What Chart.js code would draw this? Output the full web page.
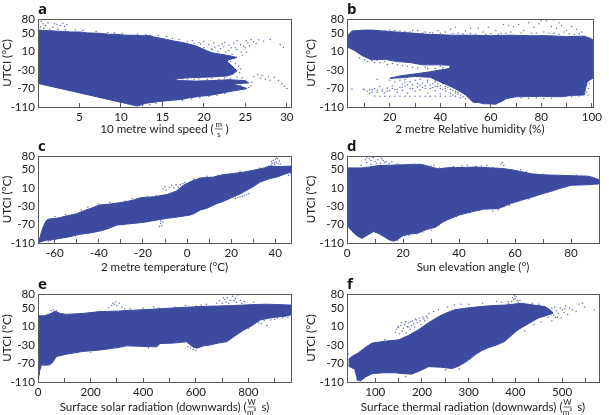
<!DOCTYPE html>
<html><head><meta charset="utf-8">
<script src="https://cdn.jsdelivr.net/npm/chart.js@4"></script>
<style>html,body{margin:0;padding:0;background:#fff;width:609px;height:415px;overflow:hidden}
canvas{position:absolute}</style></head><body>
<script>
// ---------- values ----------
const yTicks = [80, 50, 10, -30, -70, -110];

const aTicks = [5, 10, 15, 20, 25, 30];
const bTicks = [10, 20, 30, 40, 50, 60, 70, 80, 90, 100];
const bLabels = [20, 40, 60, 80, 100];
const cTicks = [-60, -50, -40, -30, -20, -10, 0, 10, 20, 30, 40];
const cLabels = [-60, -40, -20, 0, 20, 40];
const dTicks = [0, 10, 20, 30, 40, 50, 60, 70, 80, 90];
const dLabels = [0, 20, 40, 60, 80];
const eTicks = [0, 100, 200, 300, 400, 500, 600, 700, 800, 900];
const eLabels = [0, 200, 400, 600, 800];
const fTicks = [100, 150, 200, 250, 300, 350, 400, 450, 500, 550];
const fLabels = [100, 200, 300, 400, 500];

const aCloud = [[0,56],[1,55],[2,54],[3,53],[4,52],[5,52],[6,50],[7.5,49],[8.5,47],[9.5,47],[10.5,45],[11.5,45],[12.5,44],[13.5,44],[14,41],[15.5,36],[16.5,32],[17.5,29],[19,22],[20.3,12],[21,7],[22,4],[23,1],[24,-3],[23,-8],[22.8,-12],[23.3,-20],[24,-32],[23.5,-39],[22.8,-43],[21,-45],[19.5,-46],[18,-47],[16.3,-50],[17,-53],[19,-54],[21,-53],[23,-51],[25,-53],[25.4,-58],[23.5,-60],[25.2,-70],[23,-77],[21,-84],[19.5,-87],[18,-91],[17.5,-93],[14.7,-98],[13,-102],[12,-108],[11,-104],[0,-59]];
const aDots = [[0.4,75],[0.6,70],[0.9,66],[1.2,72],[1.8,62],[2,70],[2.3,68],[2.7,66],[3,71],[3.2,64],[3.5,68],[0.3,62],[0.7,60],[1.4,58],[2.4,58],[3.3,57],[4.5,56],[5.4,55],[7,53],[8.4,51],[9.2,50],[10.2,48],[12,47],[13,46],[14.5,45],[15.5,42],[16.2,38],[17,36],[18.6,33],[19.4,29],[20,32],[20.6,25],[21.2,28],[21.8,22],[22.2,26],[22.5,30],[23,24],[23.3,18],[23.6,28],[24,33],[24.4,25],[24.8,21],[25.1,33],[25.3,28],[25.7,36],[26,31],[26.3,27],[26.6,35],[27.2,32],[28,36],[29.2,25],[29.6,19],[20,18],[20.9,15],[21,14],[21.7,10],[22,16],[22.6,8],[23,12],[23.4,4],[24,14],[24.5,9],[25,18],[25.5,22],[24.6,2],[25.1,8],[23.8,18],[22.4,20],[21.3,19],[19.6,26],[18.8,27],[18,31],[23.2,-12],[23.8,-16],[24.2,-22],[24.4,-28],[24.3,-36],[16.5,-51],[17.4,-52],[18,-49],[18.8,-50],[19.4,-49],[20.4,-50],[21,-48],[21.8,-50],[22.5,-47],[23.2,-49],[24,-46],[24.6,-47],[26.5,-40],[27,-42],[27.4,-50],[27.8,-44],[28,-52],[28.5,-46],[29,-53],[29.4,-60],[29.7,-65],[30,-70],[26.8,-48],[26,-44],[15.5,-94],[16.6,-95],[17.4,-96],[18.5,-92],[19.5,-90],[13.5,-105],[14.2,-102],[15,-100],[12.6,-107],[25.6,-64],[25.4,-68],[25.8,-56],[24.4,-63],[24,-65],[24.8,-72],[22.5,-81],[21.6,-85],[20.6,-87]];

const bCloud = [[3.05,42],[4,48],[5,54],[7,55],[10,56],[13,56],[15,55],[20,53],[25,51],[30,49],[35,47],[40,46],[45,45],[52,45],[60,44],[68,45],[75,44],[82,44],[90,42],[97,43],[99.5,38],[100.4,35],[100.4,-48],[99,-52],[98,-58],[97.7,-65],[97,-84],[92,-85],[88,-88],[80,-87],[70,-88],[66,-92],[65,-96],[63,-101],[62,-104],[59,-103],[57,-103],[55,-100],[53,-100],[51.5,-92],[50,-84],[47,-74],[45,-68],[40,-56],[36,-46],[30,-44],[24,-47],[20,-48],[24,-43],[28,-40],[32,-37],[36,-34],[40,-30],[43.5,-27],[44,-20],[40,-19],[33,-19],[28,-14],[23,-12],[18,-7],[12.7,-8],[9,1],[6,12],[3.05,20]];
const bDots = [[18,54],[20,56],[22,55],[24,54],[26,53],[28,52],[29,55],[31,55],[33,50],[34,52],[36,51],[37,50],[39,55],[40,49],[42,52],[44,58],[45,48],[47,50],[49,48],[50,54],[52,49],[54,47],[55,60],[57,52],[58,47],[59,62],[60,48],[62,55],[63,47],[64,49],[66,49],[67,66],[68,52],[69,64],[71,68],[72,50],[73,55],[75,72],[76,49],[77,62],[78,50],[79,70],[80,77],[81,52],[82,76],[83,49],[84,64],[85,50],[86,60],[87,47],[88,66],[89,52],[90,55],[91,48],[92,64],[93,47],[94,58],[95,48],[96,52],[87,72],[85,78],[65,68],[52,60],[46,62],[8,-4],[10,-8],[11,-12],[13,-10],[14,-14],[15,-9],[16,-14],[18,-12],[19,-18],[21,-16],[23,-19],[25,-20],[27,-22],[29,-24],[31,-26],[34,-24],[35,-27],[38,-27],[40,-22],[41,-25],[46,-30],[48,-34],[47,-25],[49,-29],[20,-52],[21,-47],[22,-56],[24,-52],[25,-60],[26,-50],[15,-50],[9.5,-71],[5,-71],[10,-73],[11,-76],[12,-72],[13,-78],[14,-70],[15,-74],[16,-66],[17,-72],[18,-80],[19,-69],[20,-75],[21,-64],[22,-72],[23,-78],[24,-68],[25,-74],[26,-65],[27,-80],[28,-70],[29,-62],[30,-76],[31,-67],[32,-73],[33,-58],[34,-64],[35,-80],[36,-70],[37,-60],[38,-75],[39,-66],[40,-82],[41,-72],[42,-76],[43,-68],[44,-80],[45,-84],[46,-76],[47,-82],[13,-72],[15,-78],[17,-76],[19,-76],[21,-70],[23,-72],[25,-68],[27,-62],[29,-70],[31,-60],[33,-68],[35,-56],[36,-62],[38,-54],[39,-60],[40,-64],[41,-60],[42,-66],[43,-62],[44,-72],[45,-74],[46,-80],[47,-78],[48,-84],[49,-88],[32,-63],[34,-70],[37,-68],[38,-65],[40,-70],[42,-70],[12,-81],[14,-86],[16,-87],[18,-87],[20,-87],[22,-87],[24,-87],[26,-87],[28,-87],[30,-87],[32,-87],[34,-87],[36,-87],[38,-87],[40,-87],[42,-87],[44,-87],[46,-87],[48,-90],[50,-92],[72,-90],[75,-91],[78,-90],[81,-91],[84,-91],[92,-88],[95,-86],[30,-52],[32,-50],[35,-52],[38,-56],[26,-56],[28,-55],[99,-60],[98.7,-70],[98,-78],[98.5,-84]];

const cCloud = [[-67.6,-110],[-66.5,-95],[-66,-85],[-65,-72],[-64,-62],[-63,-58],[-58,-55],[-54.7,-51],[-50,-46],[-47,-40],[-43,-33],[-39.6,-27],[-35,-25],[-30.5,-22],[-25,-17],[-21,-11],[-15,-9],[-9,-4],[-5,3],[-1.7,16],[2,25],[6,32],[12,34],[16,39],[21,42],[26,45],[30,49],[35,54],[38,58],[42,57],[47.1,58],[47.1,45],[44,40],[40.7,34],[37,30],[33,23],[30,13],[27,5],[24,-3],[21,-9],[17,-18],[13.5,-24],[9,-34],[6,-38],[3,-46],[1.3,-49],[-4,-53],[-9,-56],[-15,-61],[-20,-65],[-26,-68],[-32,-71],[-36,-79],[-39.6,-84],[-44,-88],[-48.6,-91],[-54,-97],[-59,-101],[-63,-104]];
const cDots = [[38,60],[38.5,64],[39,70],[39.5,62],[40,72],[40.5,67],[41,74],[41.3,63],[41.8,69],[42.3,62],[37,58],[36,56],[39.5,66],[40.4,76],[38.2,68],[-11,8],[-10,13],[-9.5,5],[-8,11],[-7,16],[-6,10],[-5,17],[-4,12],[-3,18],[-2,20],[-1,22],[-12,-67],[-11.5,-72],[-12.5,-74],[-11,-64],[-12,-62],[28,-2],[27,-4],[26,-6],[25,-8],[24,-9],[23,-10],[22,-12],[-55,-48],[-48,-38],[-40,-25],[-35,-21],[-25,-13],[-14,-6],[3,30],[9,36],[-64,-95],[-62,-104],[-60,-103],[-63,-106],[46,38],[47,41],[-44,-85],[-36,-76],[-53,-95],[-30,-68],[-18,-63],[-7,-53],[5,-38],[10,-28],[15,-20],[-60,-52],[-45,-32],[-28,-19],[-18,-8],[14,38],[24,46],[33,53]];

const dCloud = [[0,54],[3,54],[5.3,54],[8,56],[11,59],[15,60],[20.8,61],[24,62],[27,61],[30,56],[32.6,52],[37,55],[42,55],[46,56],[51.6,54],[55,53],[58.8,50],[62,46],[66,41],[70,39],[75,38],[80,37],[86,36],[88,33],[90,28],[90,19],[85,17],[80,16],[76,9],[73,3],[70,-2],[66,-10],[62,-17],[58.8,-23],[56,-30],[54,-35],[49,-36],[44.5,-42],[40,-49],[36,-59],[34,-65],[31.5,-76],[29,-79],[25.5,-88],[22,-91],[19.6,-95],[18,-103],[16.6,-106],[15,-103],[13.7,-98],[11.5,-90],[9.5,-85],[7.5,-92],[5.3,-100],[3.8,-95],[2.4,-88],[1,-79],[0,-71]];
const dDots = [[6.5,72],[7,76],[7.5,80],[8,74],[8.5,70],[9,78],[9.5,76],[10,68],[11,72],[12,78],[12.5,74],[13,70],[13.5,66],[14,68],[15,64],[16,67],[10.5,64],[18,63],[26,62],[30,58],[31,60],[41,58],[43,60],[48,58],[50,59],[55,62],[55.5,66],[56,60],[62,50],[64,45],[70,40],[82,38],[66,-8],[63,-13],[60,-18],[56,-31],[54,-38],[47,-38],[44,-44],[39,-52],[33,-70],[29,-80],[25,-90],[22,-93],[18,-104],[15,-102],[7,66],[5,60],[8.5,62],[12,64],[33,54],[38,57],[46,57],[52,55],[72,5],[75,10],[65,-14],[58,-28],[52,-40],[50,-35],[30,-82],[27,-86]];

const eCloud = [[0,33],[25,33],[50,38],[64,43],[85,38],[108,36],[170,38],[235,42],[300,43],[362,45],[430,47],[489,49],[550,51],[616,53],[680,54],[743,55],[810,57],[870,58],[920,57],[962,56],[962,35],[940,32],[921,31],[880,28],[845,24],[815,12],[781,2],[750,-10],[718,-23],[685,-26],[654,-30],[630,-32],[604,-37],[590,-35],[565,-23],[515,-26],[464,-27],[451,-34],[395,-33],[337,-32],[285,-37],[235,-41],[170,-44],[108,-50],[70,-55],[55,-68],[44,-73],[25,-74],[13,-73],[7,-85],[4,-95],[0,-110]];
const eDots = [[50,44],[58,46],[70,44],[270,50],[280,55],[285,60],[290,58],[295,63],[300,55],[310,60],[320,52],[330,48],[350,48],[400,50],[440,52],[460,49],[520,52],[560,55],[600,54],[640,58],[690,66],[700,60],[710,68],[720,72],[730,66],[740,75],[750,70],[760,78],[770,66],[775,60],[785,64],[680,60],[620,56],[820,62],[810,15],[795,10],[780,8],[765,0],[750,12],[740,20],[830,20],[850,16],[870,12],[900,25],[930,28],[950,30],[700,-12],[680,-15],[660,-20],[640,-24],[720,-6],[600,-42],[590,-40],[580,-36],[570,-34],[610,-33],[320,-34],[310,-35],[300,-36],[420,-36],[200,-46],[150,-47],[650,-10],[800,6],[760,14],[695,-22],[730,-16],[745,-4],[755,4],[775,16],[790,20],[705,72],[715,62],[755,62],[745,66],[725,60],[840,18],[860,22],[885,24],[910,28]];

const fCloud = [[43,-61],[50,-55],[64,-47],[78,-36],[93,-26],[120,-22],[150,-19],[172,-9],[192.5,3],[214,18],[235,31],[252,39],[270,46],[298,50],[327,53],[350,55],[377,56],[395,58],[413,60],[440,56],[463,53],[474,46],[481,39],[465,33],[449,28],[428,16],[406,3],[392,-9],[377.5,-22],[360,-30],[342,-36],[328,-42],[314,-51],[303,-60],[292,-68],[278,-76],[264,-81],[240,-78],[214,-77],[195,-86],[178,-93],[160,-92],[143,-90],[118,-90],[93,-92],[78,-100],[68,-108],[63,-106],[61,-101],[58,-90],[57,-83],[43,-76]];
const fDots = [[143,-2],[146,4],[150,8],[152,-6],[155,12],[158,0],[160,6],[163,14],[166,-4],[168,10],[172,18],[175,4],[178,12],[180,22],[184,8],[186,26],[190,18],[194,28],[198,14],[202,30],[206,22],[210,32],[215,38],[225,42],[235,46],[255,52],[270,56],[283,58],[300,58],[330,60],[392,64],[394,72],[396,68],[398,76],[400,70],[402,74],[404,66],[406,62],[385,60],[370,62],[360,64],[484,52],[488,44],[492,38],[496,50],[500,46],[504,40],[508,54],[512,36],[516,50],[522,46],[530,42],[536,58],[544,60],[548,52],[569,46],[470,30],[478,22],[486,30],[498,28],[455,20],[440,14],[420,0],[40,-52],[42,-50],[280,-82],[250,-84],[205,-80],[165,-98],[120,-26],[130,-22],[148,10],[156,18],[165,20],[170,8],[176,20],[182,16],[188,24],[196,22],[204,26],[212,28],[476,36],[482,34],[490,30],[465,45],[478,50],[506,48],[450,58],[436,60],[410,66],[384,64],[120,-19]];

// ---------- panel definitions ----------
const panels = [
 {id:'a',left:0,  top:0,  w:304,h:137,pl:38,pb:107,min:0,max:30.5,ticks:aTicks,labels:aTicks,title:'10 metre wind speed (    )',frac:['m','s'],shapes:[aCloud],dots:aDots},
 {id:'b',left:304,top:0,  w:305,h:137,pl:43,pb:107,min:3.05,max:100.4,ticks:bTicks,labels:bLabels,title:'2 metre Relative humidity (%)',shapes:[bCloud],dots:bDots},
 {id:'c',left:0,  top:137,w:304,h:138,pl:38,pb:106,min:-67.6,max:47.1,ticks:cTicks,labels:cLabels,title:'2 metre temperature (°C)',shapes:[cCloud],dots:cDots},
 {id:'d',left:304,top:137,w:305,h:138,pl:43,pb:106,min:0,max:90,ticks:dTicks,labels:dLabels,title:'Sun elevation angle (°)',shapes:[dCloud],dots:dDots},
 {id:'e',left:0,  top:275,w:304,h:140,pl:38,pb:107,min:0,max:962,ticks:eTicks,labels:eLabels,title:'Surface solar radiation (downwards) (     s)',frac:['W','m²'],shapes:[eCloud],dots:eDots},
 {id:'f',left:304,top:275,w:305,h:140,pl:43,pb:107,min:39.5,max:579,ticks:fTicks,labels:fLabels,title:'Surface thermal radiation (downwards) (     s)',frac:['W','m²'],shapes:[fCloud],dots:fDots}
];
const INK = '#3c4b9f', DOT = 'rgba(60,75,159,0.8)', FRAME = '#5a5a5a', TEXT = '#222';
const FONT = 'Lato, sans-serif', FS = 11.6;

const framePlugin = {
  id:'frame',
  afterDatasetsDraw(chart){
    const {left,top,width,height} = chart.chartArea, ctx = chart.ctx;
    ctx.save(); ctx.strokeStyle = FRAME; ctx.lineWidth = 1;
    ctx.strokeRect(Math.round(left)+.5, Math.round(top)+.5, Math.round(width), Math.round(height));
    ctx.restore();
  },
  afterDraw(chart, args, o){
    if(!o.frac) return;
    const ctx = chart.ctx, a = chart.chartArea, t = o.text;
    ctx.save(); ctx.font = FS+'px '+FONT; ctx.fillStyle = TEXT; ctx.textAlign='center'; ctx.textBaseline='middle';
    const open = t.lastIndexOf('('), total = ctx.measureText(t).width;
    const x0 = (a.left+a.right)/2 - total/2 + ctx.measureText(t.slice(0,open+1)).width;
    const fw = 10, cx = x0 + fw/2, cy = chart.scales.x.bottom - 8;
    ctx.font = '8px '+FONT;
    ctx.fillText(o.frac[0], cx, cy-5);
    ctx.fillText(o.frac[1], cx, cy+5);
    ctx.strokeStyle = TEXT; ctx.lineWidth = .7;
    ctx.beginPath(); ctx.moveTo(cx-fw/2+1,cy); ctx.lineTo(cx+fw/2-1,cy); ctx.stroke();
    ctx.restore();
  }
};

panels.forEach(p=>{
  const cv = document.createElement('canvas');
  cv.style.left = p.left+'px'; cv.style.top = p.top+'px';
  cv.style.width = p.w+'px'; cv.style.height = p.h+'px';
  cv.width = p.w; cv.height = p.h;
  document.body.appendChild(cv);
  const rightEdge = p.left===0 ? 13 : 10;
  new Chart(cv,{
    type:'scatter',
    data:{datasets:[
      ...p.shapes.map(s=>({data:s,showLine:true,fill:'shape',backgroundColor:INK,borderColor:INK,borderWidth:1,pointRadius:0,tension:0})),
      {data:p.dots,showLine:false,backgroundColor:DOT,borderWidth:0,pointRadius:0.75,pointHoverRadius:0.75}
    ]},
    plugins:[framePlugin],
    options:{
      responsive:false,animation:false,events:[],
      layout:{padding:{top:1,right:rightEdge,left:0,bottom:0}},
      plugins:{
        legend:{display:false},tooltip:{enabled:false},
        title:{display:true,text:p.id,align:'start',fullSize:false,color:'#111',font:{family:'"Open Sans", sans-serif',size:15,weight:'bold',lineHeight:1.2},padding:0},
        frame:{frac:p.frac,text:p.title}
      },
      scales:{
        x:{type:'linear',min:p.min,max:p.max,
          afterBuildTicks:s=>{s.ticks=p.ticks.map(v=>({value:v}));},
          afterFit:s=>{s.height=p.h-p.pb;},
          grid:{drawOnChartArea:false,tickLength:-4,color:FRAME},border:{display:false},
          ticks:{autoSkip:false,maxRotation:0,color:TEXT,font:{family:FONT,size:FS},padding:7,
            callback:v=>p.labels.includes(v)?String(v):''},
          title:{display:true,text:p.title,color:TEXT,font:{family:FONT,size:FS},padding:{top:0,bottom:1}}
        },
        y:{type:'linear',min:-110,max:80,
          afterBuildTicks:s=>{s.ticks=yTicks.map(v=>({value:v}));},
          afterFit:s=>{s.width=p.pl;},
          grid:{drawOnChartArea:false,drawTicks:false},border:{display:false},
          ticks:{autoSkip:false,color:TEXT,font:{family:FONT,size:FS},padding:3},
          title:{display:true,text:'UTCI (°C)',color:TEXT,font:{family:FONT,size:FS},padding:{top:0,bottom:0}}
        }
      }
    }
  });
});
</script></body></html>
